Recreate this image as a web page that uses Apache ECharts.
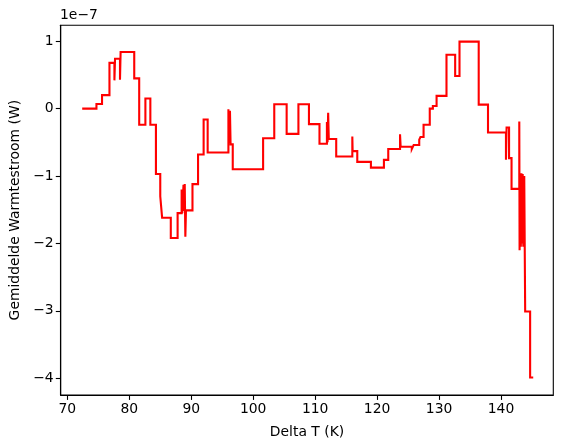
<!DOCTYPE html>
<html><head><meta charset="utf-8">
<script src="https://cdn.jsdelivr.net/npm/echarts@6/dist/echarts.min.js"></script>
<style>html,body{margin:0;padding:0;background:#fff}#c{width:565px;height:448px}</style>
</head><body><div id="c"></div>
<script>
// Delta T (K)
const deltaT = [72.4,74.7,74.7,75.6,75.6,76.8,76.8,77.6,77.6,77.7,77.7,78.5,78.5,78.6,78.6,80.8,80.8,81.6,81.6,82.6,82.6,83.4,83.4,84.3,84.3,85.0,85.0,85.3,85.3,86.7,86.7,87.8,87.8,88.45,88.45,88.55,88.55,88.75,88.75,88.85,88.85,88.95,88.95,89.05,89.05,89.15,89.15,90.2,90.2,91.1,91.1,92.0,92.0,92.65,92.65,96.0,96.0,96.15,96.15,96.25,96.25,96.35,96.35,96.7,96.7,101.6,101.6,103.4,103.4,105.4,105.4,107.3,107.3,109.0,109.0,110.7,110.7,111.9,111.9,112.0,112.0,112.1,112.1,112.2,112.2,113.4,113.4,116.0,116.0,116.05,116.05,116.8,116.8,119.0,119.0,121.1,121.1,121.8,121.8,123.7,123.7,123.8,123.8,125.6,125.6,125.9,125.9,126.8,126.8,127.0,127.0,127.5,127.5,128.5,128.5,129.0,129.0,129.6,129.6,131.2,131.2,132.6,132.6,133.3,133.3,136.4,136.4,137.9,137.9,140.8,140.8,140.9,140.9,141.3,141.3,141.7,141.7,142.95,142.95,143.0,143.0,143.1,143.1,143.2,143.2,143.3,143.3,143.4,143.4,143.5,143.5,143.6,143.6,143.75,143.75,143.9,143.9,144.7,144.7,145.2];
// Gemiddelde warmtestroom (units of 1e-7 W)
const heatFlow = [0.0,0.0,0.07,0.07,0.2,0.2,0.68,0.68,0.42,0.42,0.74,0.74,0.43,0.43,0.84,0.84,0.45,0.45,-0.24,-0.24,0.15,0.15,-0.24,-0.24,-0.97,-0.97,-1.3,-1.3,-1.62,-1.62,-1.92,-1.92,-1.55,-1.55,-1.2,-1.2,-1.55,-1.55,-1.13,-1.13,-1.52,-1.52,-1.12,-1.12,-1.9,-1.9,-1.51,-1.51,-1.12,-1.12,-0.68,-0.68,-0.16,-0.16,-0.65,-0.65,-0.01,-0.01,-0.5,-0.5,-0.03,-0.03,-0.53,-0.53,-0.9,-0.9,-0.44,-0.44,0.065,0.065,-0.375,-0.375,0.065,0.065,-0.23,-0.23,-0.52,-0.52,-0.2,-0.2,-0.5,-0.5,-0.06,-0.06,-0.45,-0.45,-0.71,-0.71,-0.415,-0.415,-0.63,-0.63,-0.79,-0.79,-0.875,-0.875,-0.76,-0.76,-0.6,-0.6,-0.38,-0.38,-0.565,-0.565,-0.6,-0.6,-0.54,-0.54,-0.46,-0.46,-0.42,-0.42,-0.24,-0.24,0.0,0.0,0.04,0.04,0.19,0.19,0.8,0.8,0.485,0.485,0.995,0.995,0.06,0.06,-0.355,-0.355,-0.76,-0.76,-0.28,-0.28,-0.735,-0.735,-1.19,-1.19,-0.19,-0.19,-2.1,-2.1,-0.97,-0.97,-2.05,-2.05,-0.96,-0.96,-2.0,-2.0,-0.97,-0.97,-2.05,-2.05,-1.0,-1.0,-3.01,-3.01,-3.99,-3.99];
const xTicks = [70,80,90,100,110,120,130,140];
const yTicks = [-4,-3,-2,-1,0,1];

const font = 'DejaVu Sans';
const fs = 13.9;
const chart = echarts.init(document.getElementById('c'), null, {renderer:'canvas'});
chart.setOption({
  animation:false,
  backgroundColor:'#fff',
  grid:{left:60.7,right:11.7,top:25.3,bottom:53,show:true,borderColor:'#000',borderWidth:1.1,containLabel:false,outerBoundsMode:'none'},
  xAxis:{type:'value',min:68.93,max:148.44,
    name:'Delta T (K)',nameLocation:'middle',nameGap:30,
    nameTextStyle:{fontFamily:font,fontSize:fs,color:'#000'},
    axisLine:{show:true,onZero:false,lineStyle:{color:'#000',width:1.1}},
    axisTick:{show:true,customValues:xTicks,length:4.9,lineStyle:{color:'#000',width:1.1}},
    axisLabel:{customValues:xTicks,margin:7,fontFamily:font,fontSize:fs,color:'#000'},
    splitLine:{show:false}},
  yAxis:{type:'value',min:-4.25,max:1.237,
    name:'Gemiddelde Warmtestroom (W)',nameLocation:'middle',nameGap:36,nameRotate:90,
    nameTextStyle:{fontFamily:font,fontSize:fs,color:'#000'},
    axisLine:{show:true,onZero:false,lineStyle:{color:'#000',width:1.1}},
    axisTick:{show:true,customValues:yTicks,length:4.9,lineStyle:{color:'#000',width:1.1}},
    axisLabel:{customValues:yTicks,margin:7,fontFamily:font,fontSize:fs,color:'#000',
      formatter:v=>String(Math.round(v)).replace('-','\u2212')},
    splitLine:{show:false}},
  graphic:[{type:'text',left:60,top:8,style:{text:'1e\u22127',font:fs+'px "'+font+'"',fill:'#000'}}],
  series:[{type:'line',data:deltaT.map((x,i)=>[x,heatFlow[i]]),showSymbol:false,
    lineStyle:{color:'#ff0000',width:2.1,join:'miter'},itemStyle:{color:'#ff0000'}}]
});
</script></body></html>
